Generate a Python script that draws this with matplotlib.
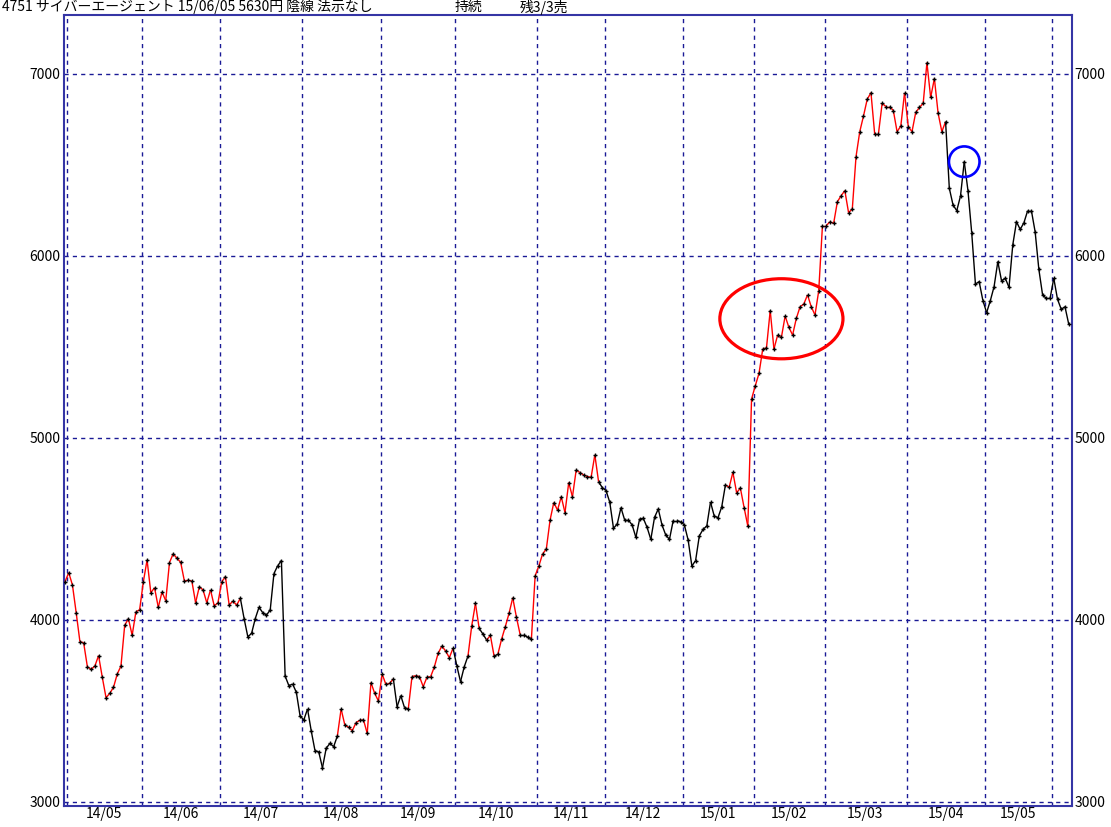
import matplotlib.pyplot as plt
from matplotlib.collections import LineCollection
from matplotlib.patches import Ellipse

plt.rcParams['font.family'] = ['Noto Sans CJK JP', 'DejaVu Sans']

# 終値 2014/04/30 - 2015/06/05 (チャートから読み取り)
closes = [
    4210, 4260, 4192, 4040, 3881, 3875, 3743, 3729, 3747, 3804,
    3685, 3573, 3597, 3630, 3703, 3747, 3971, 4007, 3916, 4045,
    4056, 4210, 4330, 4150, 4177, 4070, 4154, 4106, 4315, 4364,
    4339, 4317, 4214, 4218, 4214, 4095, 4183, 4165, 4095, 4165,
    4077, 4095, 4210, 4238, 4082, 4104, 4082, 4119, 4008, 3908,
    3926, 4008, 4070, 4040, 4027, 4055, 4255, 4298, 4326, 3692,
    3639, 3648, 3603, 3473, 3451, 3511, 3390, 3282, 3276, 3188,
    3295, 3322, 3304, 3363, 3511, 3423, 3410, 3392, 3436, 3449,
    3451, 3377, 3656, 3597, 3555, 3703, 3646, 3652, 3676, 3524,
    3584, 3518, 3511, 3689, 3694, 3689, 3634, 3685, 3689, 3743,
    3817, 3857, 3830, 3793, 3845, 3749, 3661, 3743, 3802, 3967,
    4091, 3954, 3923, 3890, 3915, 3802, 3811, 3894, 3963, 4036,
    4122, 4014, 3918, 3918, 3905, 3896, 4243, 4297, 4363, 4390,
    4549, 4645, 4604, 4677, 4590, 4755, 4677, 4824, 4810, 4797,
    4788, 4784, 4907, 4760, 4727, 4711, 4647, 4504, 4527, 4617,
    4549, 4549, 4522, 4454, 4555, 4558, 4509, 4443, 4564, 4610,
    4522, 4467, 4443, 4546, 4546, 4540, 4522, 4440, 4297, 4326,
    4462, 4498, 4516, 4648, 4571, 4562, 4621, 4742, 4729, 4811,
    4699, 4725, 4618, 4516, 5214, 5287, 5355, 5489, 5495, 5700,
    5489, 5566, 5553, 5670, 5608, 5566, 5657, 5721, 5736, 5786,
    5721, 5676, 5808, 6166, 6166, 6188, 6179, 6298, 6331, 6359,
    6238, 6258, 6546, 6683, 6769, 6861, 6897, 6670, 6670, 6839,
    6821, 6821, 6799, 6683, 6714, 6896, 6711, 6683, 6789, 6816,
    6839, 7062, 6871, 6975, 6784, 6683, 6738, 6372, 6280, 6249,
    6330, 6518, 6359, 6128, 5846, 5859, 5755, 5689, 5755, 5832,
    5969, 5863, 5877, 5828, 6060, 6188, 6146, 6183, 6249, 6249,
    6133, 5926, 5786, 5767, 5767, 5877, 5762, 5707, 5721, 5626,
]

months = ['14/05', '14/06', '14/07', '14/08', '14/09', '14/10', '14/11',
          '14/12', '15/01', '15/02', '15/03', '15/04', '15/05']
# 各月の最初の営業日 (インデックス), 最後は 15/06
month_start = [1, 21, 42, 64, 85, 105, 127, 145, 166, 185, 204, 226, 247, 265]

# 保有状態が切り替わる位置 (赤=保有中, 黒=なし), 最初は赤
switch_at = [47, 73, 88, 92, 104, 108, 111, 113, 115, 116, 122, 125, 143, 177, 236]

yticks = [3000, 4000, 5000, 6000, 7000]

x = list(range(len(closes)))

state = True
segs, cols = [], []
for i in range(len(closes) - 1):
    if i in switch_at:
        state = not state
    segs.append([(x[i], closes[i]), (x[i + 1], closes[i + 1])])
    cols.append('#ff0000' if state else '#000000')

fig = plt.figure(figsize=(11.11, 8.27), dpi=100)
ax = fig.add_axes([63.5 / 1111, 21 / 827, (1071.7 - 63.5) / 1111, (806 - 15) / 827])

grid_col = '#1a1a96'
ax.add_collection(LineCollection(segs, colors=cols, linewidths=1.0, zorder=3))
ax.plot(x, closes, linestyle='none', marker='+', ms=3.5, mew=1.0, color='black', zorder=4)

ax.set_xlim(-0.4, 269.8)
ax.set_ylim(2978, 7324)

# グリッド
ax.set_yticks(yticks)
ax.set_yticklabels([str(v) for v in yticks])
ax.set_xticks([m - 0.4 for m in month_start])
ax.set_xticklabels([])
centers = [(month_start[k] + month_start[k + 1] - 1) / 2 for k in range(len(months))]
ax.set_xticks(centers, minor=True)
ax.set_xticklabels(months, minor=True)
ax.grid(True, color=grid_col, linestyle=(0, (3, 3)), linewidth=1.0, zorder=1)
ax.tick_params(axis='both', which='both', length=0, labelsize=10, colors='black')
ax.tick_params(axis='x', which='minor', pad=1)
ax.tick_params(axis='y', labelright=True, pad=2)

for s in ax.spines.values():
    s.set_color('#3535a5')
    s.set_linewidth(1.5)

# 注目箇所の丸
ax.add_patch(Ellipse((192, 5655), 33, 440, fill=False, edgecolor='#ff0000',
                     linewidth=2.3, zorder=5))
ax.add_patch(Ellipse((241, closes[241]), 8.2, 168, fill=False, edgecolor='#0000ff',
                     linewidth=1.9, zorder=5))

fig.text(2 / 1111, 1 - 7 / 827, '4751 サイバーエージェント 15/06/05 5630円 陰線 法示なし',
         fontsize=10, va='center', ha='left')
fig.text(455 / 1111, 1 - 7 / 827, '持続', fontsize=10, va='center', ha='left')
fig.text(520 / 1111, 1 - 7 / 827, '残3/3売', fontsize=10, va='center', ha='left')

fig.savefig('out.png', dpi=100)
